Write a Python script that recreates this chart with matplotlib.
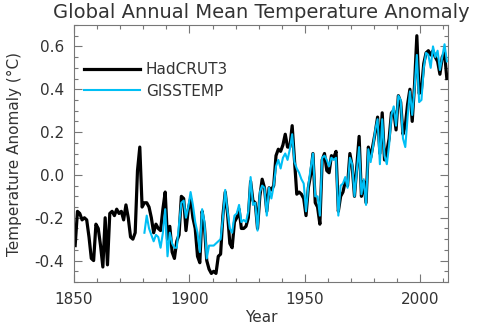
import matplotlib
matplotlib.use('Agg')
import matplotlib.pyplot as plt
import numpy as np
from matplotlib.ticker import MultipleLocator, FormatStrFormatter

# HadCRUT3 annual anomalies (deg C), 1850-2011
had_years = list(range(1850, 2012))
hadcrut3 = [
    -0.33, -0.17, -0.18, -0.21, -0.20, -0.21, -0.29, -0.39, -0.40, -0.23,  # 1850s
    -0.25, -0.33, -0.43, -0.20, -0.42, -0.18, -0.17, -0.19, -0.16, -0.18,  # 1860s
    -0.17, -0.21, -0.14, -0.20, -0.29, -0.30, -0.27, 0.02, 0.13, -0.15,    # 1870s
    -0.13, -0.13, -0.15, -0.20, -0.27, -0.23, -0.25, -0.26, -0.16, -0.08,  # 1880s
    -0.30, -0.24, -0.36, -0.39, -0.31, -0.28, -0.10, -0.11, -0.26, -0.16,  # 1890s
    -0.11, -0.20, -0.25, -0.38, -0.41, -0.17, -0.24, -0.40, -0.44, -0.46,  # 1900s
    -0.45, -0.46, -0.38, -0.37, -0.19, -0.08, -0.18, -0.32, -0.34, -0.22,  # 1910s
    -0.20, -0.16, -0.25, -0.25, -0.24, -0.20, -0.03, -0.12, -0.13, -0.25,  # 1920s
    -0.10, -0.02, -0.06, -0.17, -0.06, -0.07, -0.05, 0.09, 0.12, 0.11,     # 1930s
    0.14, 0.19, 0.13, 0.13, 0.23, 0.07, -0.09, -0.08, -0.09, -0.11,        # 1940s
    -0.19, -0.06, 0.00, 0.10, -0.13, -0.15, -0.23, 0.07, 0.10, 0.02,       # 1950s
    0.01, 0.09, 0.08, 0.11, -0.17, -0.10, -0.08, -0.03, -0.05, 0.10,       # 1960s
    0.04, -0.10, 0.04, 0.18, -0.10, -0.03, -0.13, 0.13, 0.08, 0.14,        # 1970s
    0.20, 0.27, 0.10, 0.29, 0.07, 0.11, 0.17, 0.29, 0.30, 0.21,            # 1980s
    0.37, 0.34, 0.19, 0.23, 0.33, 0.40, 0.25, 0.42, 0.65, 0.38,            # 1990s
    0.40, 0.52, 0.57, 0.58, 0.56, 0.58, 0.55, 0.53, 0.47, 0.55,            # 2000s
    0.57, 0.45,                                                            # 2010s
]

# GISTEMP annual anomalies (deg C), 1880-2011
giss_years = list(range(1880, 2012))
gisstemp = [
    -0.27, -0.19, -0.25, -0.28, -0.31, -0.28, -0.29, -0.34, -0.27, -0.16,  # 1880s
    -0.38, -0.27, -0.32, -0.34, -0.34, -0.23, -0.13, -0.12, -0.20, -0.15,  # 1890s
    -0.08, -0.14, -0.22, -0.27, -0.36, -0.16, -0.22, -0.39, -0.33, -0.33,  # 1900s
    -0.33, -0.32, -0.31, -0.30, -0.20, -0.07, -0.17, -0.25, -0.27, -0.19,  # 1910s
    -0.18, -0.14, -0.22, -0.21, -0.22, -0.17, -0.01, -0.14, -0.13, -0.26,  # 1920s
    -0.08, -0.05, -0.06, -0.19, -0.06, -0.11, -0.05, 0.04, 0.07, 0.03,     # 1930s
    0.08, 0.10, 0.07, 0.12, 0.19, 0.06, 0.03, 0.01, -0.02, -0.04,          # 1940s
    -0.17, -0.05, 0.03, 0.10, -0.10, -0.10, -0.19, 0.08, 0.09, 0.07,       # 1950s
    0.04, 0.08, 0.07, 0.08, -0.19, -0.05, -0.04, -0.01, -0.06, 0.08,       # 1960s
    0.05, -0.10, 0.02, 0.13, -0.09, -0.02, -0.14, 0.12, 0.06, 0.13,        # 1970s
    0.21, 0.26, 0.05, 0.26, 0.09, 0.05, 0.14, 0.28, 0.32, 0.23,            # 1980s
    0.37, 0.35, 0.17, 0.13, 0.27, 0.39, 0.28, 0.40, 0.56, 0.34,            # 1990s
    0.35, 0.50, 0.57, 0.56, 0.50, 0.60, 0.55, 0.58, 0.49, 0.55,            # 2000s
    0.61, 0.53,                                                            # 2010s
]

plt.rcParams['font.family'] = 'DejaVu Sans'
plt.rcParams['axes.unicode_minus'] = False

fig = plt.figure(figsize=(4.8, 3.28), dpi=100)
ax = fig.add_axes([74 / 480, 46 / 328, 374 / 480, 257 / 328])

# annual means plotted at mid-year
ax.plot(np.array(had_years) + 0.5, hadcrut3, color='black', lw=2.3, label='HadCRUT3')
ax.plot(np.array(giss_years) + 0.5, gisstemp, color='#00BFF5', lw=1.5, label='GISSTEMP')

ax.set_xlim(1850, 2012)
ax.set_ylim(-0.5, 0.7)
ax.xaxis.set_major_locator(MultipleLocator(50))
ax.xaxis.set_minor_locator(MultipleLocator(10))
ax.yaxis.set_major_locator(MultipleLocator(0.2))
ax.yaxis.set_minor_locator(MultipleLocator(0.05))
ax.yaxis.set_major_formatter(FormatStrFormatter('%.1f'))

txt = '#333333'
gray = '#777777'
for sp in ax.spines.values():
    sp.set_color(gray)
    sp.set_linewidth(0.8)
ax.tick_params(which='both', direction='in', top=True, right=True, color=gray,
               labelsize=11, labelcolor=txt, pad=7)
ax.tick_params(which='major', length=6, width=0.8)
ax.tick_params(which='minor', length=3, width=0.8)

ax.set_title('Global Annual Mean Temperature Anomaly', fontsize=14, color=txt, pad=5)
ax.set_xlabel('Year', fontsize=11, color=txt, labelpad=2)
ax.set_ylabel('Temperature Anomaly (°C)', fontsize=11, color=txt, labelpad=9)

ax.legend(loc='upper left', bbox_to_anchor=(0.01, 0.88), frameon=False, fontsize=11,
          labelcolor=txt, handlelength=3.7, handletextpad=0.35, labelspacing=0.45,
          borderaxespad=0.0)

fig.savefig('out.png', dpi=100)
